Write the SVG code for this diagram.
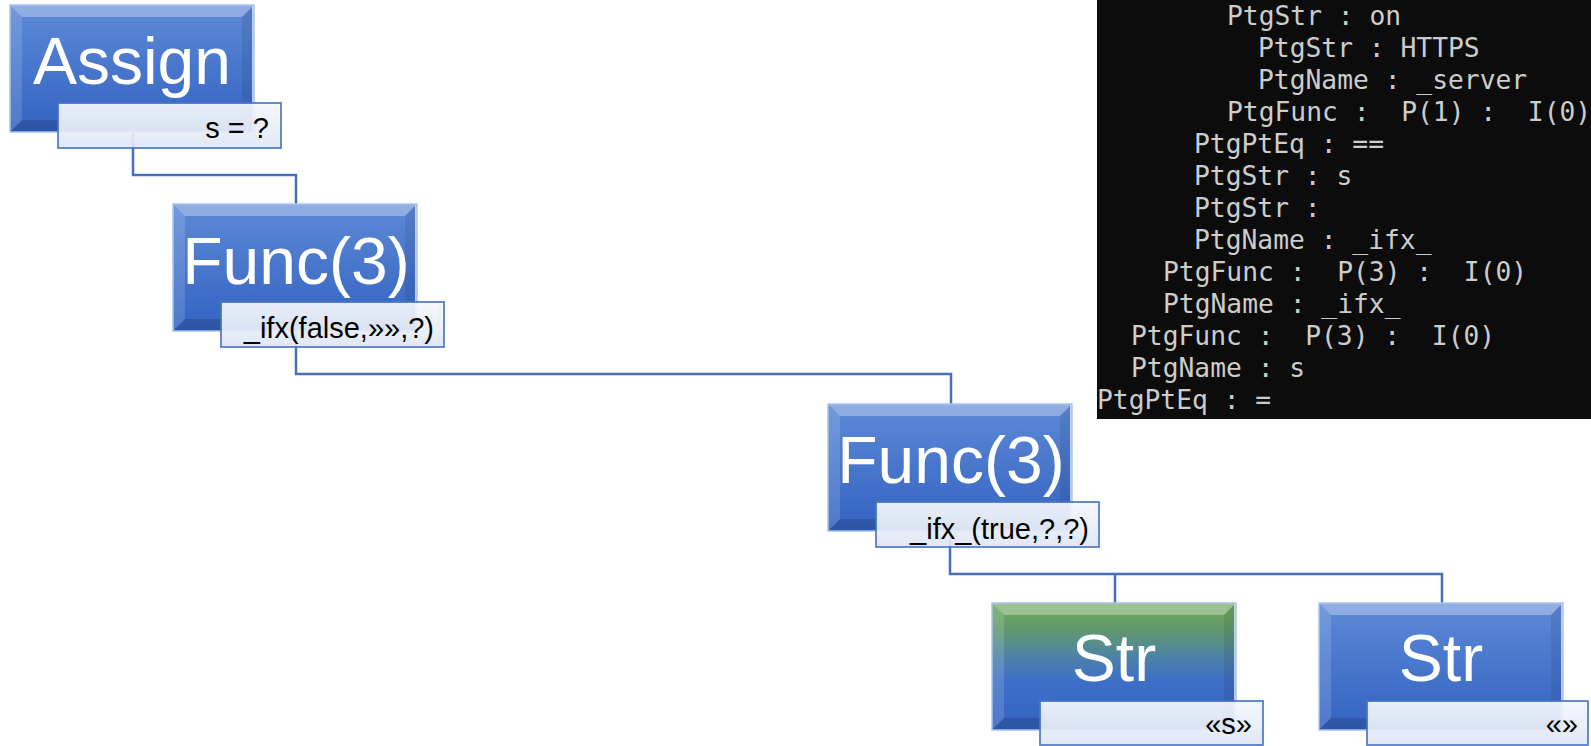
<svg xmlns="http://www.w3.org/2000/svg" xmlns:xlink="http://www.w3.org/1999/xlink" width="1591" height="746" viewBox="0 0 1591 746">
  <style>
    .node-title { font-family: "Liberation Sans", Arial, sans-serif; font-size: 66px; fill: #ffffff; text-anchor: middle; }
    .label-box { fill: url(#labelGrad); stroke: #4a76c6; stroke-width: 1.8; opacity: 0.93; }
    .label-text { font-family: "Liberation Sans", Arial, sans-serif; font-size: 29px; fill: #000000; text-anchor: end; white-space: pre; }
    .conn { fill: none; stroke: #4670b9; stroke-width: 2.5; }
    .term { font-family: "DejaVu Sans Mono", "Liberation Mono", monospace; font-size: 26.3px; fill: #cccccc; white-space: pre; }
    .box-edge { fill: none; stroke: #a9c3ee; stroke-width: 1.5; }
  </style>
  <defs>
    <linearGradient id="blueGrad" x1="0" y1="0" x2="0" y2="1">
      <stop offset="0" stop-color="#5d89d6"/>
      <stop offset="1" stop-color="#3363c1"/>
    </linearGradient>
    <linearGradient id="greenGrad" x1="0" y1="0" x2="0" y2="1">
      <stop offset="0" stop-color="#6fa85c"/>
      <stop offset="0.2" stop-color="#629a6c"/>
      <stop offset="0.45" stop-color="#4a7fad"/>
      <stop offset="0.62" stop-color="#3e6fc8"/>
      <stop offset="1" stop-color="#3363c1"/>
    </linearGradient>
    <linearGradient id="labelGrad" x1="0" y1="0" x2="0" y2="1">
      <stop offset="0" stop-color="#f5f8fd"/>
      <stop offset="1" stop-color="#e0e7f4"/>
    </linearGradient>
    <g id="bevel">
      <polygon points="0,0 244,0 232,12 12,12" fill="#ffffff" opacity="0.32"/>
      <polygon points="0,0 12,12 12,115 0,127" fill="#ffffff" opacity="0.14"/>
      <polygon points="244,0 244,127 232,115 232,12" fill="#000000" opacity="0.08"/>
      <polygon points="0,127 12,115 232,115 244,127" fill="#000000" opacity="0.14"/>
      <line x1="243" y1="1" x2="243" y2="126" stroke="#e6efff" stroke-width="1.5"/>
      <rect x="0" y="0" width="244" height="127" class="box-edge"/>
    </g>
  </defs>

  <rect x="0" y="0" width="1591" height="746" fill="#ffffff"/>

  <g id="connectors">
    <polyline class="conn" points="133,130 133,175 296,175 296,205"/>
    <polyline class="conn" points="296,330 296,374 951,374 951,405"/>
    <polyline class="conn" points="950,530 950,574 1442,574 1442,604"/>
    <line class="conn" x1="1115" y1="574" x2="1115" y2="604"/>
  </g>

  <g id="node-assign" transform="translate(10,5)">
    <rect width="244" height="127" fill="url(#blueGrad)"/>
    <use xlink:href="#bevel"/>
    <text class="node-title" x="122" y="79">Assign</text>
    <rect class="label-box" x="48" y="98" width="223" height="45"/>
    <text class="label-text" x="259" y="133">s = ?</text>
  </g>

  <g id="node-func1" transform="translate(173,204)">
    <rect width="244" height="127" fill="url(#blueGrad)"/>
    <use xlink:href="#bevel"/>
    <text class="node-title" x="123" y="80">Func(3)</text>
    <rect class="label-box" x="48" y="98" width="223" height="45"/>
    <text class="label-text" x="261" y="134">_ifx(false,»»,?)</text>
  </g>

  <g id="node-func2" transform="translate(828,404)">
    <rect width="244" height="127" fill="url(#blueGrad)"/>
    <use xlink:href="#bevel"/>
    <text class="node-title" x="123" y="79">Func(3)</text>
    <rect class="label-box" x="48" y="98" width="223" height="45"/>
    <text class="label-text" x="261" y="135">_ifx_(true,?,?)</text>
  </g>

  <g id="node-str1" transform="translate(992,603)">
    <rect width="244" height="127" fill="url(#greenGrad)"/>
    <use xlink:href="#bevel"/>
    <text class="node-title" x="122" y="78">Str</text>
    <rect class="label-box" x="48" y="98" width="223" height="44"/>
    <text class="label-text" x="260" y="131">«s»</text>
  </g>

  <g id="node-str2" transform="translate(1319,603)">
    <rect width="244" height="127" fill="url(#blueGrad)"/>
    <use xlink:href="#bevel"/>
    <text class="node-title" x="122" y="78">Str</text>
    <rect class="label-box" x="48" y="98" width="221" height="44"/>
    <text class="label-text" x="259" y="131">«»</text>
  </g>

  <g id="terminal">
    <rect x="1097" y="0" width="494" height="419" fill="#0c0c0c"/>
    <text class="term" x="1227" y="25">PtgStr : on</text>
    <text class="term" x="1258" y="57">PtgStr : HTTPS</text>
    <text class="term" x="1258" y="89">PtgName : _server</text>
    <text class="term" x="1227" y="121">PtgFunc :  P(1) :  I(0)</text>
    <text class="term" x="1194" y="153">PtgPtEq : ==</text>
    <text class="term" x="1194" y="185">PtgStr : s</text>
    <text class="term" x="1194" y="217">PtgStr :</text>
    <text class="term" x="1194" y="249">PtgName : _ifx_</text>
    <text class="term" x="1163" y="281">PtgFunc :  P(3) :  I(0)</text>
    <text class="term" x="1163" y="313">PtgName : _ifx_</text>
    <text class="term" x="1131" y="345">PtgFunc :  P(3) :  I(0)</text>
    <text class="term" x="1131" y="377">PtgName : s</text>
    <text class="term" x="1097" y="409">PtgPtEq : =</text>
  </g>
</svg>
